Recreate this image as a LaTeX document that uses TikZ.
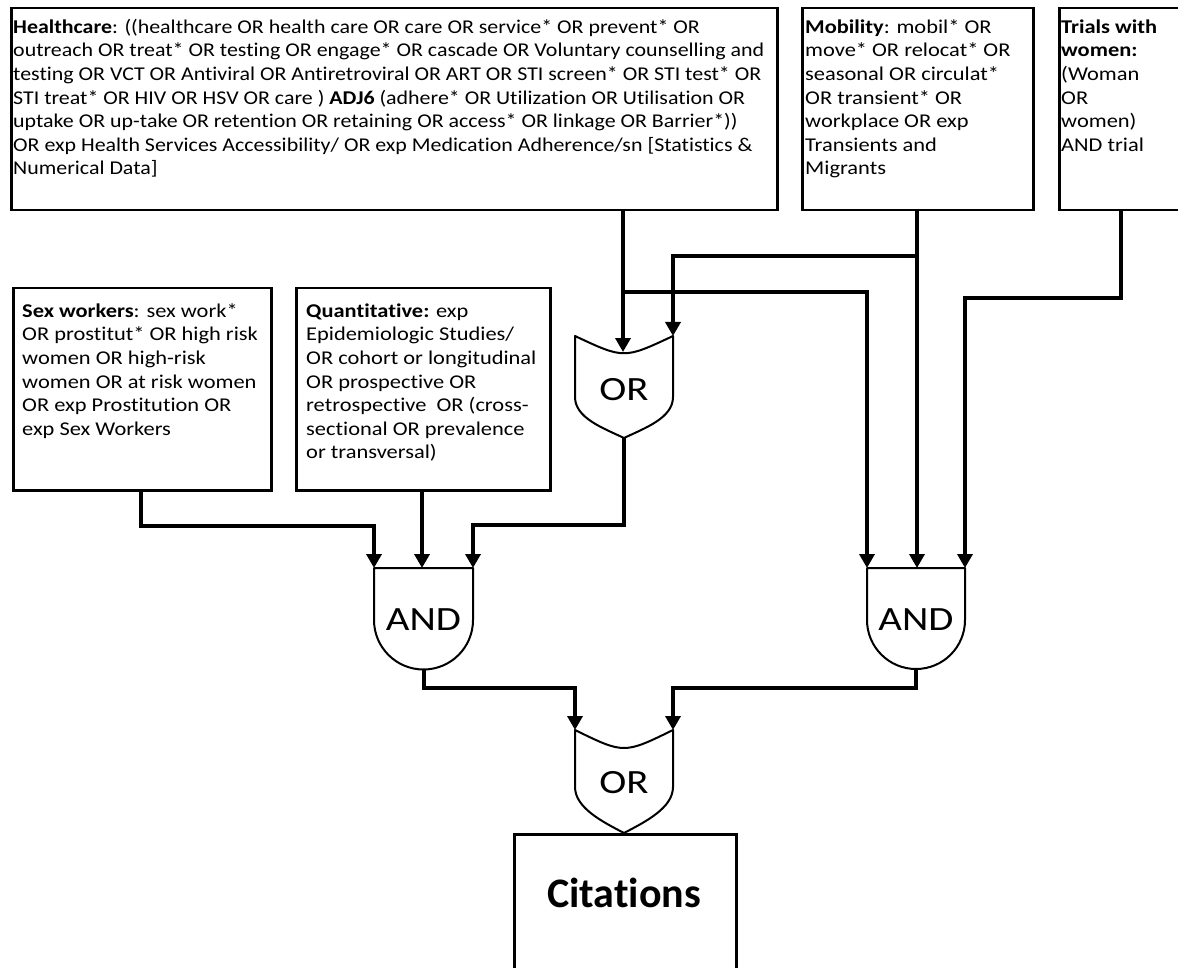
\documentclass[tikz,border=0pt]{standalone}
\usepackage{fontspec}
\setmainfont{Carlito}[Ligatures=NoCommon]
\newfontfamily\hcfont{Carlito}[FakeStretch=1.124,Ligatures=NoCommon]
\newfontfamily\bxfont{Carlito}[FakeStretch=1.15,Ligatures=NoCommon]
\newfontfamily\gtfont{Carlito}[FakeStretch=1.2]
\usetikzlibrary{arrows.meta}
\begin{document}
\begin{tikzpicture}[x=1pt,y=-1pt]
\tikzset{
  boxs/.style={draw, line width=2.5pt, inner sep=0pt, anchor=north west},
  txt/.style={anchor=north west, inner sep=0pt, align=left, font=\bxfont\fontsize{19.5}{23.6}\selectfont},
  hctxt/.style={txt, font=\hcfont\fontsize{19.5}{23.6}\selectfont},
  wire/.style={line width=4pt},
  arr/.style={wire, -{Triangle[length=14pt,width=15pt]}},
  gate/.style={draw, line width=2pt, fill=white, line join=round},
  glabel/.style={inner sep=0pt, font=\gtfont\fontsize{34}{40}\selectfont},
}
\clip (0,0) rectangle (1178,968);
\fill[white] (0,0) rectangle (1178,968);

% boxes
\node[boxs, minimum width=766pt, minimum height=202pt] (hc) at (10,7) {};
\node[boxs, minimum width=231pt, minimum height=202pt] (mob) at (801,7) {};
\node[boxs, minimum width=220pt, minimum height=202pt] (tri) at (1058,7) {};
\node[boxs, minimum width=258pt, minimum height=202pt] (sex) at (12,287) {};
\node[boxs, minimum width=254pt, minimum height=202pt] (qua) at (295,287) {};
\node[boxs, minimum width=222pt, minimum height=220pt] (cit) at (513,833) {};

% texts
\node[hctxt] (hct) at (13,16.5) {\strut\textbf{Healthcare}: ((healthcare OR health care OR care OR service* OR prevent* OR\\
outreach OR treat* OR testing OR engage* OR cascade OR Voluntary counselling and\\
testing OR VCT OR Antiviral OR Antiretroviral OR ART OR STI screen* OR STI test* OR\\
STI treat* OR HIV OR HSV OR care ) \textbf{ADJ6} (adhere* OR Utilization OR Utilisation OR\\
uptake OR up-take OR retention OR retaining OR access* OR linkage OR Barrier*))\\
OR exp Health Services Accessibility/ OR exp Medication Adherence/sn [Statistics \&\\
Numerical Data]};
\node[txt] (mobt) at (805,16.5) {\strut\textbf{Mobility}: mobil* OR\\
move* OR relocat* OR\\
seasonal OR circulat*\\
OR transient* OR\\
workplace OR exp\\
Transients and\\
Migrants};
\node[txt] (trit) at (1061,16.5) {\strut\textbf{Trials with}\\
\textbf{women:}\\
(Woman\\
OR\\
women)\\
AND trial};
\node[txt] (sext) at (22,300.5) {\strut\textbf{Sex workers}: sex work*\\
OR prostitut* OR high risk\\
women OR high-risk\\
women OR at risk women\\
OR exp Prostitution OR\\
exp Sex Workers};
\node[txt] (quat) at (306,300.5) {\strut\textbf{Quantitative:} exp\\
Epidemiologic Studies/\\
OR cohort or longitudinal\\
OR prospective OR\\
retrospective\ \ OR (cross-\\
sectional OR prevalence\\
or transversal)};
\node[inner sep=0pt, font=\fontsize{42}{48}\selectfont\bfseries] (citt) at (624,893) {Citations};

% gates
\draw[gate] (575,336) .. controls (624,359) .. (673,336) -- (673,397)
  .. controls (673,418) and (645,428) .. (624,438)
  .. controls (603,428) and (575,418) .. (575,397) -- cycle;
\node[glabel] (or1) at (624,390) {OR};

\draw[gate] (575,730) .. controls (624,754) .. (673,730) -- (673,787)
  .. controls (673,808) and (645,822) .. (624,833)
  .. controls (603,822) and (575,808) .. (575,787) -- cycle;
\node[glabel] (or2) at (624,783) {OR};

\draw[gate] (374,568) -- (473,568) -- (473,620) arc (0:180:49.5) -- cycle;
\node[glabel] (and1) at (423.5,620) {AND};

\draw[gate] (867,568) -- (965,568) -- (965,620) arc (0:180:49) -- cycle;
\node[glabel] (and2) at (916,620) {AND};

% connection points
\coordinate (hcout) at (623,209);
\coordinate (mobout) at (917,209);
\coordinate (triout) at (1121,209);
\coordinate (sexout) at (141,489);
\coordinate (quaout) at (422,489);
\coordinate (or1a) at (623,352);
\coordinate (or1b) at (673,336);
\coordinate (or1out) at (624,438);
\coordinate (and1a) at (374,568);
\coordinate (and1b) at (422,568);
\coordinate (and1c) at (473,568);
\coordinate (and1out) at (423.5,670);
\coordinate (and2a) at (867,568);
\coordinate (and2b) at (917,568);
\coordinate (and2c) at (965,568);
\coordinate (and2out) at (916,669);
\coordinate (or2a) at (575,730);
\coordinate (or2b) at (673,730);
\coordinate (hcj) at (623,292);
\coordinate (mobj) at (917,256);

% connectors
\draw[arr] (hcout) -- (or1a);
\draw[arr] (hcj) -| (and2a);
\draw[arr] (mobout) -- (and2b);
\draw[arr] (mobj) -| (or1b);
\draw[arr] (triout) |- (1043,298) -| (and2c);
\draw[arr] (sexout) |- (258,526) -| (and1a);
\draw[arr] (quaout) -- (and1b);
\draw[arr] (or1out) |- (548,525) -| (and1c);
\draw[arr] (and1out) |- (500,688) -| (or2a);
\draw[arr] (and2out) |- (795,688) -| (or2b);
\end{tikzpicture}
\end{document}
